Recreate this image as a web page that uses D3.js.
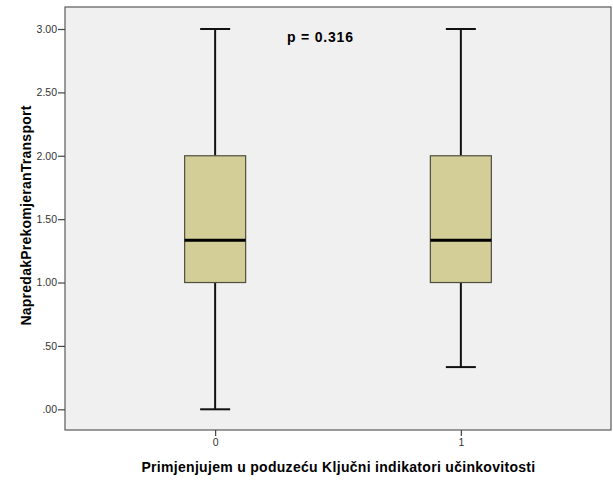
<!DOCTYPE html>
<html>
<head>
<meta charset="utf-8">
<script src="https://cdn.jsdelivr.net/npm/d3@7"></script>
<style>
  html, body { margin: 0; padding: 0; background: #fff; }
  svg { display: block; }
</style>
</head>
<body>
<svg id="chart" width="613" height="481"></svg>
<script>
// Groups and five-number summaries for each box
const groups = ["0", "1"];
const whiskerLow = [0.00, 0.333];
const q1 = [1.00, 1.00];
const median = [1.333, 1.333];
const q3 = [2.00, 2.00];
const whiskerHigh = [3.00, 3.00];

const yTicks = [0, 0.5, 1, 1.5, 2, 2.5, 3];
const yTickLabels = [".00", ".50", "1.00", "1.50", "2.00", "2.50", "3.00"];

const xTitle = "Primjenjujem u poduzeću Ključni indikatori učinkovitosti";
const yTitle = "NapredakPrekomjeranTransport";
const pText = "p = 0.316";

const svg = d3.select("#chart");
const plot = { left: 65, top: 7, right: 611, bottom: 430 };

const x = d3.scalePoint()
  .domain(groups)
  .range([plot.left, plot.right])
  .padding(0.611);

const y = d3.scaleLinear()
  .domain([0, 3])
  .range([409.3, 29]);

// plot background and frame
svg.append("rect")
  .attr("x", plot.left).attr("y", plot.top)
  .attr("width", plot.right - plot.left)
  .attr("height", plot.bottom - plot.top)
  .attr("fill", "#f0f0f0")
  .attr("stroke", "#5a5a5a")
  .attr("stroke-width", 1.2);

// y axis
const yAxis = d3.axisLeft(y)
  .tickValues(yTicks)
  .tickFormat((d, i) => yTickLabels[i])
  .tickSize(7)
  .tickPadding(1);
const gy = svg.append("g")
  .attr("transform", `translate(${plot.left},0)`)
  .call(yAxis);
gy.select(".domain").remove();
gy.selectAll(".tick line").attr("stroke", "#444").attr("stroke-width", 1.2);
gy.selectAll(".tick text")
  .attr("fill", "#333")
  .style("font-family", "Arial, 'Liberation Sans', sans-serif")
  .style("font-size", "10.5px");

// x axis
const xAxis = d3.axisBottom(x)
  .tickSize(6)
  .tickPadding(3);
const gx = svg.append("g")
  .attr("transform", `translate(0,${plot.bottom})`)
  .call(xAxis);
gx.select(".domain").remove();
gx.selectAll(".tick line").attr("stroke", "#444").attr("stroke-width", 1.2);
gx.selectAll(".tick text")
  .attr("fill", "#333")
  .style("font-family", "Arial, 'Liberation Sans', sans-serif")
  .style("font-size", "10.5px");

// boxes
const boxW = 61;
const capW = 30;
const boxes = svg.append("g").selectAll("g")
  .data(groups)
  .join("g");

// whiskers
boxes.append("line")
  .attr("x1", d => x(d)).attr("x2", d => x(d))
  .attr("y1", (d, i) => y(whiskerLow[i]))
  .attr("y2", (d, i) => y(q1[i]))
  .attr("stroke", "#111").attr("stroke-width", 2);
boxes.append("line")
  .attr("x1", d => x(d)).attr("x2", d => x(d))
  .attr("y1", (d, i) => y(q3[i]))
  .attr("y2", (d, i) => y(whiskerHigh[i]))
  .attr("stroke", "#111").attr("stroke-width", 2);
// caps
boxes.append("line")
  .attr("x1", d => x(d) - capW / 2).attr("x2", d => x(d) + capW / 2)
  .attr("y1", (d, i) => y(whiskerLow[i]))
  .attr("y2", (d, i) => y(whiskerLow[i]))
  .attr("stroke", "#111").attr("stroke-width", 2);
boxes.append("line")
  .attr("x1", d => x(d) - capW / 2).attr("x2", d => x(d) + capW / 2)
  .attr("y1", (d, i) => y(whiskerHigh[i]))
  .attr("y2", (d, i) => y(whiskerHigh[i]))
  .attr("stroke", "#111").attr("stroke-width", 2);
// box body
boxes.append("rect")
  .attr("x", d => x(d) - boxW / 2)
  .attr("width", boxW)
  .attr("y", (d, i) => y(q3[i]))
  .attr("height", (d, i) => y(q1[i]) - y(q3[i]))
  .attr("fill", "#d3ce97")
  .attr("stroke", "#4f4f3f")
  .attr("stroke-width", 1.2);
// median
boxes.append("line")
  .attr("x1", d => x(d) - boxW / 2).attr("x2", d => x(d) + boxW / 2)
  .attr("y1", (d, i) => y(median[i]))
  .attr("y2", (d, i) => y(median[i]))
  .attr("stroke", "#000").attr("stroke-width", 3);

// annotation
svg.append("text")
  .attr("x", 287).attr("y", 42)
  .attr("fill", "#000")
  .style("font-family", "Arial, 'Liberation Sans', sans-serif")
  .style("font-size", "14px")
  .style("font-weight", "bold")
  .style("letter-spacing", "0.8px")
  .text(pText);

// axis titles
svg.append("text")
  .attr("x", 338.5)
  .attr("y", 472)
  .attr("text-anchor", "middle")
  .attr("fill", "#000")
  .style("font-family", "Arial, 'Liberation Sans', sans-serif")
  .style("font-size", "14px")
  .style("font-weight", "bold")
  .style("letter-spacing", "0.3px")
  .text(xTitle);

svg.append("text")
  .attr("transform", "translate(31,215.5) rotate(-90)")
  .attr("text-anchor", "middle")
  .attr("fill", "#000")
  .style("font-family", "Arial, 'Liberation Sans', sans-serif")
  .style("font-size", "14px")
  .style("font-weight", "bold")
  .style("letter-spacing", "0.25px")
  .text(yTitle);
</script>
</body>
</html>
